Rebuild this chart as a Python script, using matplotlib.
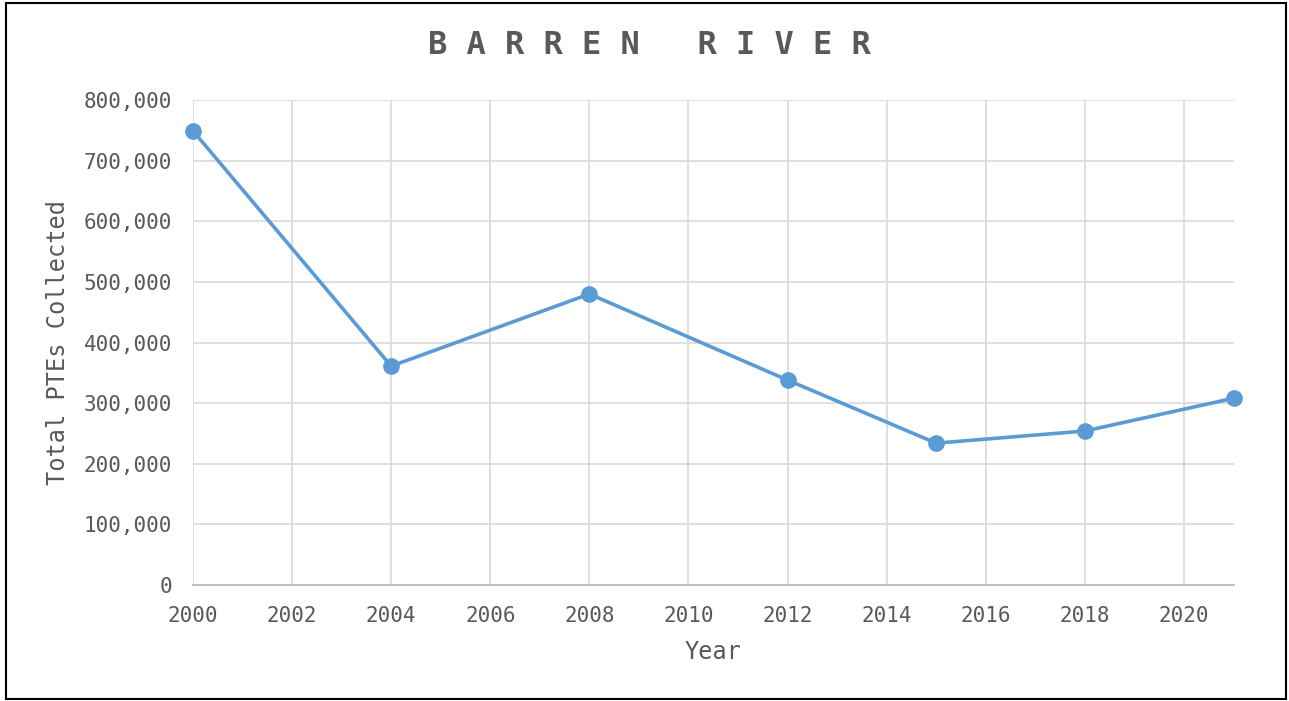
import numpy as np
import matplotlib.pyplot as plt
from matplotlib.patches import Rectangle
from matplotlib.ticker import FuncFormatter

# data
years = [2000, 2004, 2008, 2012, 2015, 2018, 2021]
ptes = [749000, 361000, 480000, 338000, 234000, 254000, 308000]

plt.rcParams['font.family'] = ['DejaVu Sans Mono']
grey = '#595959'
fs = 15

W, H = 1289, 701
fig = plt.figure(figsize=(W/100, H/100), dpi=100)
ax = fig.add_axes([193/W, 1 - 585/H, (1233.5 - 193)/W, (585 - 100)/H])

ax.plot(years, ptes, color='#5b9bd5', linewidth=2.6, marker='o', markersize=11,
        clip_on=False, zorder=3)

ax.set_xlim(2000, 2021)
ax.set_ylim(0, 800000)
ax.set_xticks(np.arange(2000, 2021, 2))
ax.set_yticks(np.arange(0, 800001, 100000))
ax.yaxis.set_major_formatter(FuncFormatter(lambda v, p: f'{int(v):,}'))
ax.grid(True, color='#d9d9d9', linewidth=1.2)
ax.set_axisbelow(True)
for s in ['top', 'right', 'left']:
    ax.spines[s].set_visible(False)
ax.spines['bottom'].set_color('#bfbfbf')
ax.spines['bottom'].set_linewidth(1.5)
ax.tick_params(length=0, labelsize=fs, labelcolor=grey, pad=15)

# axis titles and chart title
fig.text(713/W, 1 - 652/H, 'Year', ha='center', va='center', fontsize=17, color=grey)
fig.text(58/W, 1 - 343/H, 'Total PTEs Collected', ha='center', va='center',
         rotation=90, fontsize=17, color=grey)
fig.text(649/W, 1 - 46/H, 'B A R R E N   R I V E R',
         ha='center', va='center', fontsize=23, fontweight='bold', color=grey)

# outer frame
fig.patches.append(Rectangle((6/W, 2/H), 1280/W, 696/H, transform=fig.transFigure,
                             fill=False, edgecolor='black', linewidth=1.5))

plt.savefig('out.png', dpi=100)
